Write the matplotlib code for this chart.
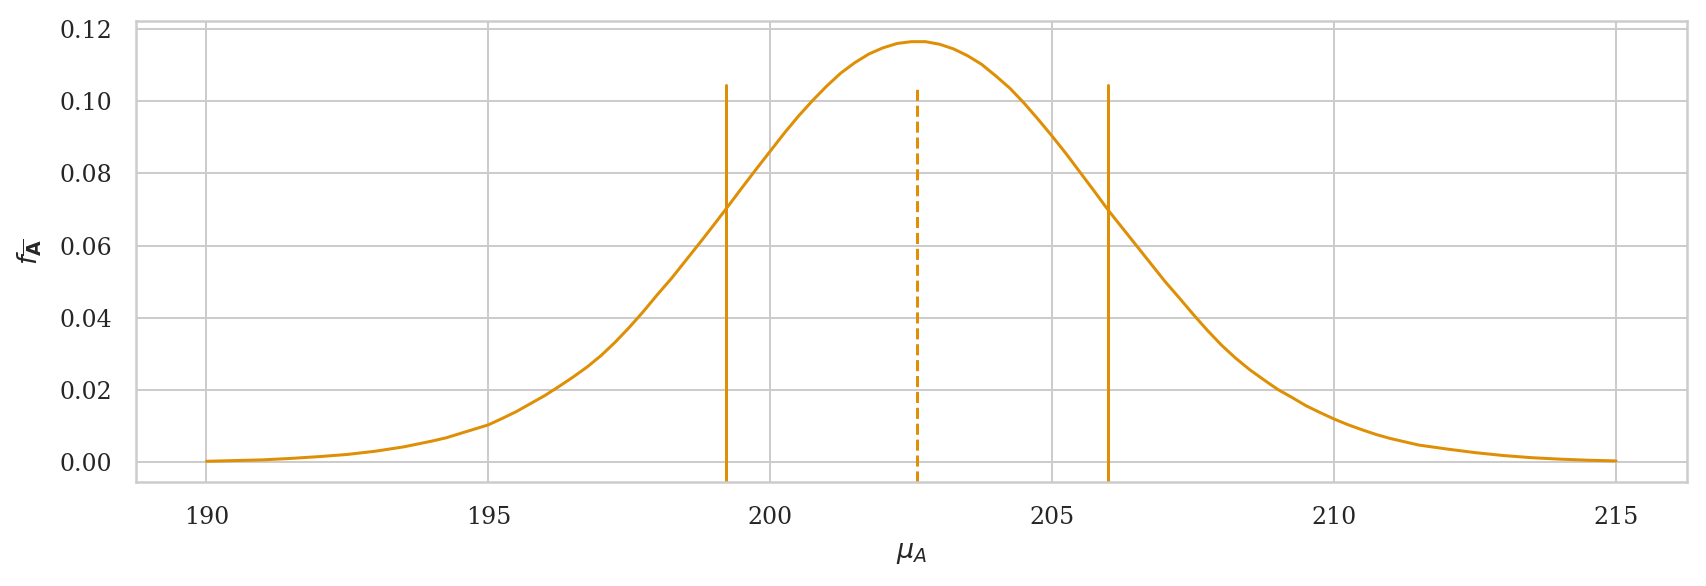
import numpy as np
import matplotlib
matplotlib.use("Agg")
import matplotlib.pyplot as plt
import seaborn as sns

# density curve (finer steps where it bends)
mu_grid = [190.0, 190.5, 191.0, 191.5, 192.0, 192.5, 193.0, 193.5,
           194.0, 194.25, 194.5, 194.75, 195.0, 195.25, 195.5, 195.75,
           196.0, 196.25, 196.5, 196.75, 197.0, 197.25, 197.5, 197.75,
           198.0, 198.25, 198.5, 198.75, 199.0, 199.25, 199.5, 199.75,
           200.0, 200.25, 200.5, 200.75, 201.0, 201.25, 201.5, 201.75,
           202.0, 202.25, 202.5, 202.75, 203.0, 203.25, 203.5, 203.75,
           204.0, 204.25, 204.5, 204.75, 205.0, 205.25, 205.5, 205.75,
           206.0, 206.25, 206.5, 206.75, 207.0, 207.25, 207.5, 207.75,
           208.0, 208.25, 208.5, 208.75, 209.0, 209.25, 209.5, 209.75,
           210.0, 210.25, 210.5, 210.75, 211.0, 211.5, 212.0, 212.5,
           213.0, 213.5, 214.0, 214.5, 215.0]
density = [0.0003, 0.0005, 0.0007, 0.0011, 0.0016, 0.0022, 0.0031, 0.0043,
           0.0059, 0.0068, 0.0080, 0.0092, 0.0104, 0.0122, 0.0141, 0.0163,
           0.0185, 0.0210, 0.0236, 0.0264, 0.0296, 0.0333, 0.0374, 0.0418,
           0.0465, 0.0510, 0.0559, 0.0608, 0.0658, 0.0709, 0.0761, 0.0812,
           0.0862, 0.0912, 0.0959, 0.1002, 0.1042, 0.1078, 0.1107, 0.1131,
           0.1148, 0.1160, 0.1165, 0.1165, 0.1158, 0.1145, 0.1126, 0.1102,
           0.1070, 0.1036, 0.0995, 0.0950, 0.0903, 0.0854, 0.0802, 0.0750,
           0.0697, 0.0648, 0.0599, 0.0550, 0.0501, 0.0456, 0.0410, 0.0366,
           0.0325, 0.0289, 0.0257, 0.0229, 0.0202, 0.0180, 0.0157, 0.0138,
           0.0120, 0.0104, 0.0090, 0.0077, 0.0066, 0.0048, 0.0037, 0.0027,
           0.0019, 0.0013, 0.0009, 0.0006, 0.0004]

# interval bounds and centre
lower, centre, upper = 199.21, 202.61, 205.99

sns.set_theme(style="whitegrid", font="serif")
plt.rcParams["font.family"] = ["DejaVu Serif"]

color = sns.color_palette("colorblind")[1]

fig = plt.figure(figsize=(1706 / 144, 586 / 144), dpi=144)
ax = fig.add_subplot(111)
fig.subplots_adjust(left=0.0797, right=0.9886, top=0.9647, bottom=0.177)

ax.plot(mu_grid, density, color=color, lw=1.5)
ax.axvline(lower, ymax=0.861, color=color, lw=1.5)
ax.axvline(upper, ymax=0.861, color=color, lw=1.5)
ax.axvline(centre, ymax=0.861, color=color, lw=1.5, ls="--")

ax.tick_params(axis="both", labelsize=11.8, pad=6)
ax.set_xlabel(r"$\mu_A$", fontsize=13.5, labelpad=5)
ax.set_ylabel(r"$f_{\overline{\mathbf{A}}}$", fontsize=13.5, labelpad=8)

fig.savefig("out.png", dpi=144)
